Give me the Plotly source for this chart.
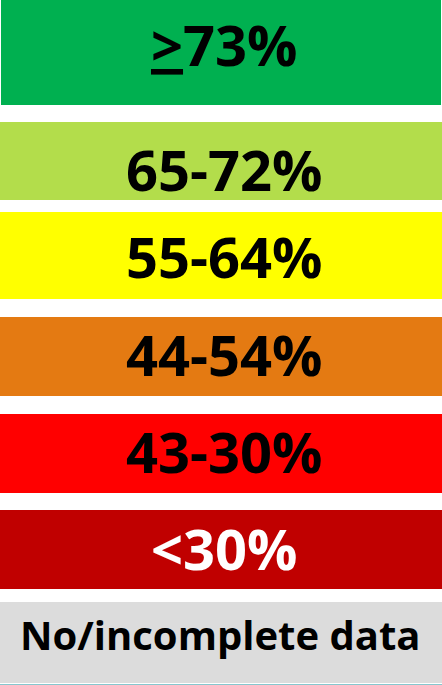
import plotly.graph_objects as go

# Legend categories (text), colours, and text colours
labels = ["<u>&gt;</u>73%", "65-72%", "55-64%", "44-54%", "43-30%", "<30%", "No/incomplete data"]
colors = ["#00B050", "#B3DD4B", "#FFFF00", "#E47A12", "#FF0000", "#C00000", "#DCDCDC"]
text_colors = ["#000000", "#000000", "#000000", "#000000", "#000000", "#FFFFFF", "#000000"]

# Box geometry (pixel layout of each legend box)
box_top = [0, 122, 212, 317, 414, 510, 602]
box_bottom = [105, 200, 299, 396, 493, 589, 683]
box_left = [1, 0, 0, 0, 0, 0, 0]
box_right = [441, 442, 442, 442, 442, 442, 442]
text_y = [44, 169, 256, 354, 451, 548, 634]
text_x = [224, 224, 224, 224, 224, 224, 220]
text_size = [56, 56, 56, 56, 56, 56, 40]

centers = [(t + b) / 2 for t, b in zip(box_top, box_bottom)]
heights = [b - t for t, b in zip(box_top, box_bottom)]
widths = [r - l for l, r in zip(box_left, box_right)]

fig = go.Figure(
    go.Bar(
        orientation="h",
        y=centers,
        x=widths,
        base=box_left,
        width=heights,
        marker=dict(color=colors, line=dict(width=0)),
        hoverinfo="skip",
        showlegend=False,
    )
)

for lab, tx, ty, tc, ts in zip(labels, text_x, text_y, text_colors, text_size):
    fig.add_annotation(
        x=tx, y=ty, xref="x", yref="y", text=lab, showarrow=False,
        xanchor="center", yanchor="middle",
        font=dict(family="Open Sans", size=ts, color=tc, weight=700),
    )

fig.add_shape(type="line", xref="x", yref="y", x0=0, x1=442, y0=684.5, y1=684.5,
              line=dict(color="#86C7CE", width=1))

fig.update_layout(
    width=442, height=685,
    margin=dict(l=0, r=0, t=0, b=0),
    paper_bgcolor="white", plot_bgcolor="white",
    xaxis=dict(range=[0, 442], visible=False, fixedrange=True),
    yaxis=dict(range=[685, 0], visible=False, fixedrange=True),
)

fig.write_html("out.html", config={"displayModeBar": False},
               post_script="document.body.style.margin='0';document.body.style.overflow='hidden';")
